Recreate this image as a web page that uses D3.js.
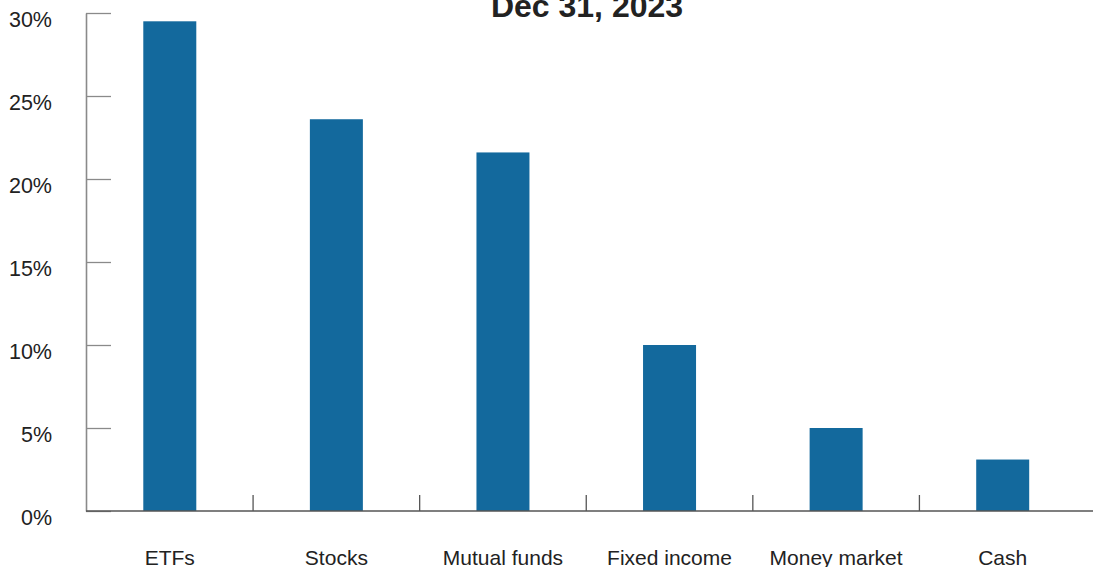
<!DOCTYPE html>
<html>
<head>
<meta charset="utf-8">
<script src="https://cdn.jsdelivr.net/npm/d3@7"></script>
<style>
  html, body { margin: 0; padding: 0; background: #fff; }
  svg { display: block; }
  text { font-family: "Liberation Sans", Helvetica, Arial, sans-serif; fill: #222; }
</style>
</head>
<body>
<svg id="chart" width="1093" height="567"></svg>
<script>
// Asset mix at year end
const title = "Dec 31, 2023";
const categories = ["ETFs", "Stocks", "Mutual funds", "Fixed income", "Money market", "Cash"];
const shares = [29.5, 23.6, 21.6, 10.0, 5.0, 3.1];
const yTicks = [0, 5, 10, 15, 20, 25, 30];

const W = 1093, H = 567;
const svg = d3.select("#chart");

const axisX = 86, baseY = 511, topY = 13;

const y = d3.scaleLinear().domain([0, 30]).range([baseY, topY]);
const x = d3.scaleBand().domain(categories).range([86.5, 1086]).paddingInner(0).paddingOuter(0);
const barW = 53;

// Title
svg.append("text")
  .attr("x", 587).attr("y", 17)
  .attr("text-anchor", "middle")
  .attr("font-size", 32).attr("font-weight", "bold")
  .text(title);

// Bars
svg.append("g").selectAll("rect")
  .data(categories)
  .join("rect")
  .attr("x", d => x(d) + x.bandwidth() / 2 - barW / 2)
  .attr("width", barW)
  .attr("y", (d, i) => y(shares[i]))
  .attr("height", (d, i) => y(0) - y(shares[i]))
  .attr("fill", "#13699d");

// Y axis: ticks extend into the plot, labels sit just below each tick
const yAxis = svg.append("g")
  .attr("transform", `translate(${axisX},0)`)
  .call(d3.axisLeft(y).tickValues(yTicks).tickFormat(d => d + "%")
    .tickSizeInner(-25).tickSizeOuter(0).tickPadding(34));
yAxis.select(".domain").attr("stroke", "#8a8a8a").attr("stroke-width", 1.6);
yAxis.selectAll(".tick line").attr("stroke", "#8a8a8a").attr("stroke-width", 1.3);
yAxis.selectAll(".tick text")
  .attr("y", 7)
  .attr("font-size", 21.5)
  .attr("font-family", "'Liberation Sans', Helvetica, Arial, sans-serif")
  .attr("fill", "#222");

// X axis: separators between categories, labels centred under bars
const xAxis = svg.append("g");
xAxis.append("line")
  .attr("x1", axisX).attr("x2", W)
  .attr("y1", baseY).attr("y2", baseY)
  .attr("stroke", "#555").attr("stroke-width", 1.3);
xAxis.selectAll("line.sep")
  .data(categories.slice(1))
  .join("line")
  .attr("class", "sep")
  .attr("x1", d => x(d)).attr("x2", d => x(d))
  .attr("y1", baseY - 16).attr("y2", baseY)
  .attr("stroke", "#555").attr("stroke-width", 1.3);
xAxis.selectAll("text")
  .data(categories)
  .join("text")
  .attr("x", d => x(d) + x.bandwidth() / 2)
  .attr("y", 565)
  .attr("text-anchor", "middle")
  .attr("font-size", 21)
  .text(d => d);
</script>
</body>
</html>
